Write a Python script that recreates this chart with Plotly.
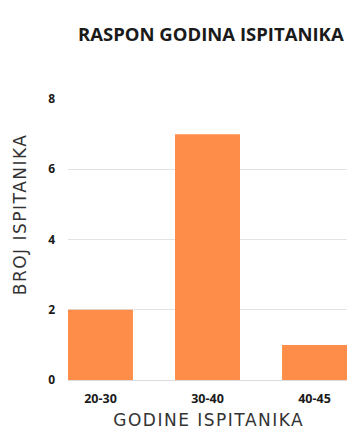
import plotly.graph_objects as go

categories = ["20-30", "30-40", "40-45"]
values = [2, 7, 1]
y_ticks = [0, 2, 4, 6, 8]

W, H = 347, 429
L, R, T, B = 68, 0, 99, 49
pw, ph = W - L - R, H - T - B
BAR_W = 0.607

def px(x, y):
    return (x - L) / pw, (H - y - B) / ph

fig = go.Figure(go.Bar(x=categories, y=values, marker=dict(color="#FD8D48", line=dict(width=0)), width=BAR_W))

tx, ty = px(211, 33)
yx, yy = px(20, 214)
xx, xy = px(209, 420)

fig.update_layout(
    width=W, height=H,
    margin=dict(l=L, r=R, t=T, b=B, autoexpand=False),
    paper_bgcolor="white", plot_bgcolor="white",
    showlegend=False,
    font=dict(family="Open Sans", color="#1a1a1a"),
    xaxis=dict(showgrid=False, showline=False, ticks="", automargin=False,
               range=[-BAR_W / 2, len(categories) - 1 + BAR_W / 2],
               tickfont=dict(family="Open Sans", size=12.5, color="#1a1a1a", weight="bold"),
               ticklabelstandoff=9, zeroline=False),
    yaxis=dict(range=[0, 8], tickvals=y_ticks, showgrid=True, gridcolor="#e3e3e3", gridwidth=1,
               zeroline=True, zerolinecolor="#dcdcdc", zerolinewidth=1, automargin=False,
               tickfont=dict(family="Open Sans", size=12, color="#1a1a1a", weight="bold"),
               ticklabelstandoff=12, showline=False),
    annotations=[
        dict(text="<b>RASPON GODINA ISPITANIKA</b>", x=tx, y=ty, xref="paper", yref="paper",
             xanchor="center", yanchor="middle",
             showarrow=False, font=dict(family="Open Sans", size=18.5, color="#1a1a1a")),
        dict(text="BROJ ISPITANIKA", x=yx, y=yy, xref="paper", yref="paper", textangle=-90, showarrow=False,
             xanchor="center", yanchor="middle",
             font=dict(family="DejaVu Sans", size=17, color="#333333")),
        dict(text="GODINE ISPITANIKA", x=xx, y=xy, xref="paper", yref="paper", showarrow=False,
             xanchor="center", yanchor="middle",
             font=dict(family="DejaVu Sans", size=17, color="#333333")),
    ],
)

post = """
document.body.style.margin = '0';
var els = document.querySelectorAll('.annotation-text');
for (var i = 1; i < els.length; i++) { els[i].style.letterSpacing = '1.5px'; }
"""
fig.write_html("out.html", post_script=post, config={"displayModeBar": False})
